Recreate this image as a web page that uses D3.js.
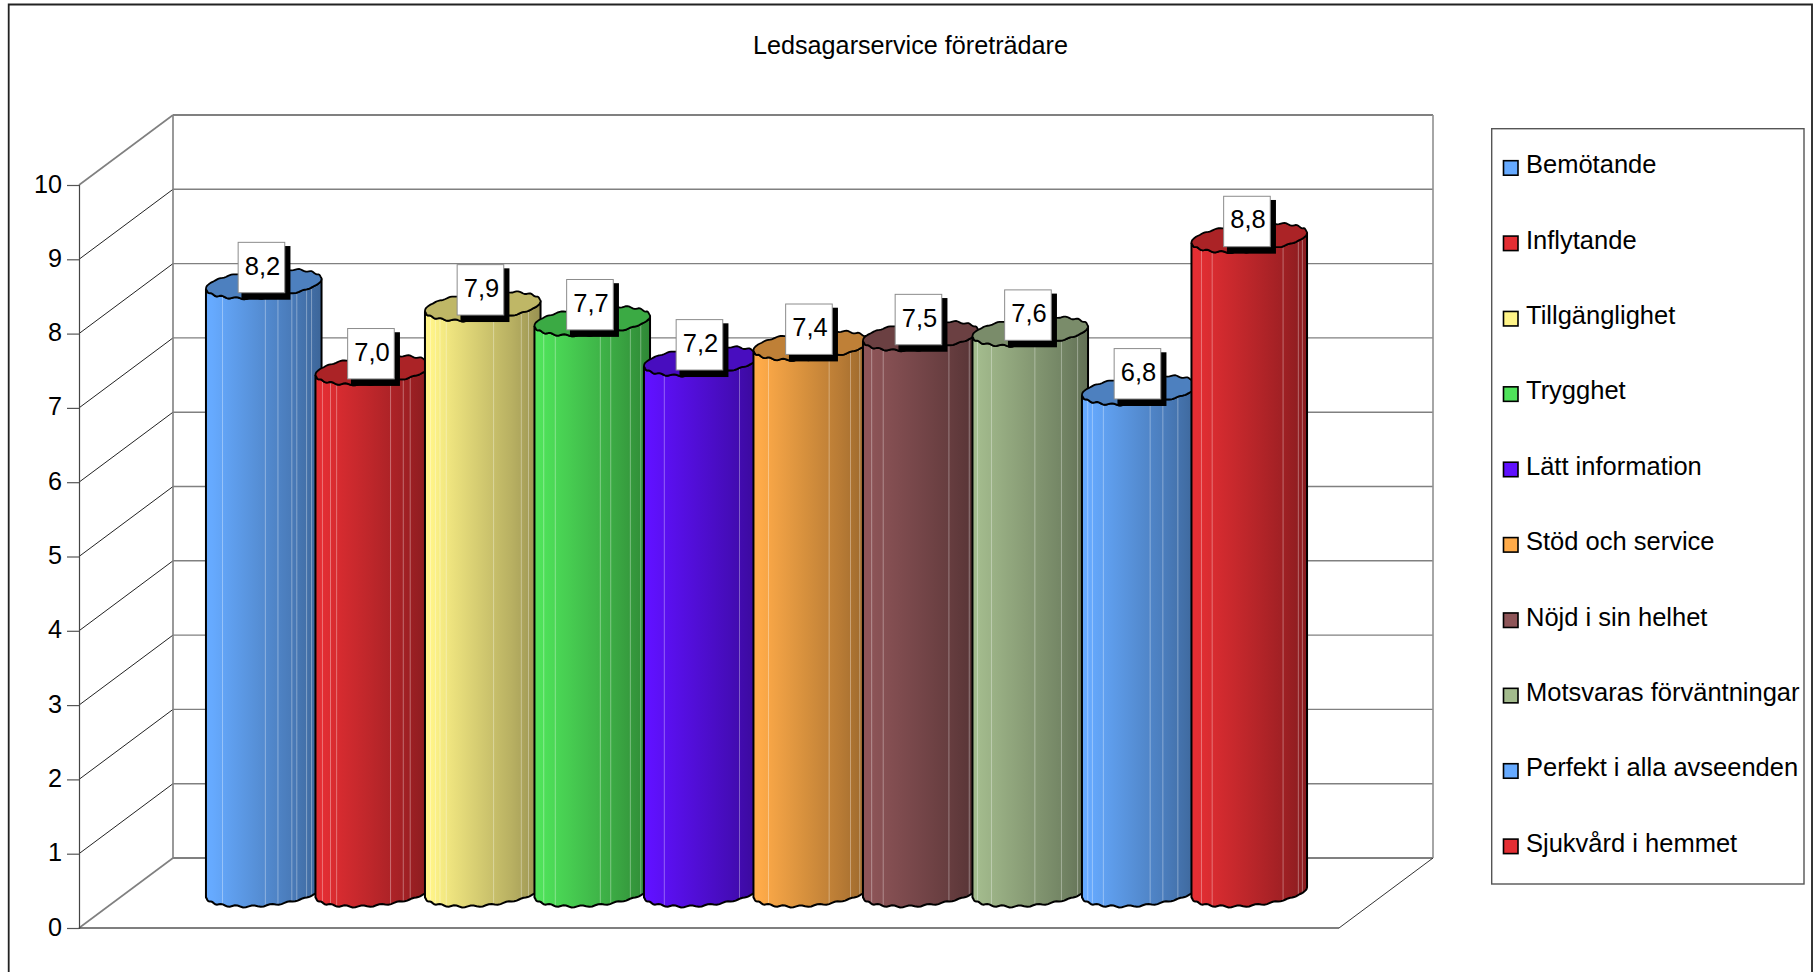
<!DOCTYPE html>
<html><head><meta charset="utf-8"><style>html,body{margin:0;padding:0;background:#fff;overflow:hidden}svg{display:block}text{font-family:"Liberation Sans",Arial,sans-serif;fill:#000}</style>
<script src="https://cdn.jsdelivr.net/npm/d3@7"></script></head><body><svg id="c" width="1820" height="972"></svg><script>
const titleText="Ledsagarservice företrädare";
const categories=["Bemötande","Inflytande","Tillgänglighet","Trygghet","Lätt information","Stöd och service","Nöjd i sin helhet","Motsvaras förväntningar","Perfekt i alla avseenden","Sjukvård i hemmet"];
const values=[8.2,7.04,7.9,7.7,7.16,7.37,7.5,7.56,6.77,8.82];
const colors=["#66aaff","#e42e33","#fff488","#4fe35a","#6011ff","#ffab49","#8e5558","#a3bb8d","#66aaff","#e42e33"];
const yTicks=[0,1,2,3,4,5,6,7,8,9,10];
const stripes=[[.143,.514,.623,.743,.786,.871,.914],[.06,.13,.183,.65,.76,.82],[.047,.09,.13,.184,.594,.834,.896],[.08,.18,.57,.66,.83,.92],[.176,.827],[.13,.655,.84,.92],[.075,.175,.744,.92],[.043,.164,.54,.77,.91],[.05,.09,.185,.59,.70,.83],[.086,.179,.793,.925,.96]];

const svg=d3.select("#c");
const y=d3.scaleLinear().domain([0,10]).range([928,185]);
const x=d3.scaleBand().domain(categories).range([206,1301]);
const front={l:79,r:1339},depth={dx:94,dy:-70};
const L=svg.append("g"),defs=svg.append("defs");
const line=(x1,y1,x2,y2,s,w)=>L.append("line").attr("x1",x1).attr("y1",y1).attr("x2",x2).attr("y2",y2).attr("stroke",s).attr("stroke-width",w);

// outer frame (open at the bottom)
L.append("path").attr("d",`M8.7,972V4.5H1812V972`).attr("fill","none").attr("stroke","#222").attr("stroke-width",1.8);
L.append("text").attr("x",910.5).attr("y",54).attr("text-anchor","middle").attr("font-size",25.2).text(titleText);

// walls
yTicks.forEach(t=>{
  const e=t===0||t===10;
  line(front.l,y(t),front.l+depth.dx,y(t)+depth.dy,e?"#808080":"#222",e?1.6:1);
  line(front.l+depth.dx,y(t)+depth.dy,front.r+depth.dx,y(t)+depth.dy,"#808080",e?2:1.4);
});
line(front.l+depth.dx,y(10)+depth.dy,front.l+depth.dx,y(0)+depth.dy,"#808080",1.6);
line(front.r+depth.dx,y(10)+depth.dy,front.r+depth.dx,y(0)+depth.dy,"#909090",1.6);
line(front.r,y(0),front.r+depth.dx,y(0)+depth.dy,"#333",1);
line(front.l,y(0),front.r,y(0),"#555",1.4);

const ax=L.append("g").attr("transform",`translate(${front.l},0)`).call(d3.axisLeft(y).tickValues(yTicks).tickSize(12).tickPadding(5).tickFormat(d3.format("d")));
ax.selectAll("line").attr("stroke","#555").attr("stroke-width",1.2);
ax.select(".domain").attr("stroke","#444").attr("stroke-width",1.2);
ax.selectAll("text").attr("font-size",25.2).attr("font-family",'"Liberation Sans",Arial,sans-serif').attr("fill","#000").attr("dy","0.28em");

// cylinders
const bw=115.5,a=54.4,p=19.5,q=14.5,N=20,amp=1.0;
const pt=(cx,cy,t)=>{
  const wave=Math.cos(t*N);
  return [cx+a*Math.cos(t)+p*Math.sin(t),cy-(q+amp*wave)*Math.sin(t)];
};
const tL=Math.PI+Math.atan2(p,a);
const ring=(cx,cy)=>d3.range(160).map(k=>pt(cx,cy,k/160*2*Math.PI));
const frontArc=(cx,cy)=>d3.range(61).map(i=>pt(cx,cy,tL+i/60*Math.PI));
const shade=(c,f)=>{const h=d3.rgb(c);return d3.rgb(h.r*f,h.g*f,h.b*f).formatHex()};
const lin=d3.line().curve(d3.curveLinear);
categories.forEach((c,i)=>{
  const left=x(c),cx=left+bw/2,cyT=y(values[i])-35,cyB=y(0)-36,col=colors[i];
  const g=defs.append("linearGradient").attr("id","g"+i);
  [[0,1],[.05,1],[.45,.84],[.75,.72],[1,.6]].forEach(s=>g.append("stop").attr("offset",s[0]).attr("stop-color",shade(col,s[1])));
  const top=frontArc(cx,cyT),bot=frontArc(cx,cyB);
  const body=lin(top.slice().reverse().concat(bot))+"Z";
  defs.append("clipPath").attr("id","k"+i).append("path").attr("d",body);
  const G=svg.append("g");
  G.append("path").attr("d",body).attr("fill",`url(#g${i})`);
  G.append("g").attr("clip-path",`url(#k${i})`).selectAll("line").data(stripes[i]).join("line")
    .attr("x1",s=>left+s*bw).attr("x2",s=>left+s*bw).attr("y1",cyT-20).attr("y2",cyB+20)
    .attr("stroke","#fff").attr("stroke-opacity",.35).attr("stroke-width",1);
  G.append("path").attr("d",body).attr("fill","none").attr("stroke","#000").attr("stroke-width",2);
  G.append("path").attr("d",lin(ring(cx,cyT))+"Z").attr("fill",shade(col,.75)).attr("stroke","#000").attr("stroke-width",1.8);
});

// data labels
const fmt=v=>d3.format(".1f")(v).replace(".",",");
const bw2=46.6,bh=50.4;
categories.forEach((c,i)=>{
  const cx=x(c)+bw/2-2.3,cy=y(values[i])-35-16.2;
  const G=svg.append("g");
  G.append("rect").attr("x",cx-bw2/2+3.3).attr("y",cy-bh/2+3.7).attr("width",bw2+2.4).attr("height",bh+3.3).attr("fill","#000");
  G.append("rect").attr("x",cx-bw2/2).attr("y",cy-bh/2).attr("width",bw2).attr("height",bh).attr("fill","#fff").attr("stroke","#8c8c8c").attr("stroke-width",1);
  G.append("text").attr("x",cx+1).attr("y",cy+7).attr("text-anchor","middle").attr("font-size",25.5).text(fmt(values[i]));
});

// legend
svg.append("rect").attr("x",1491.7).attr("y",128.7).attr("width",312.3).attr("height",755.3).attr("fill","#fff").attr("stroke","#555").attr("stroke-width",1.4);
const ly=d3.scalePoint().domain(categories).range([173.3,851.7]);
categories.forEach((c,i)=>{
  svg.append("rect").attr("x",1503.5).attr("y",ly(c)-12.6).attr("width",14.5).attr("height",14.5).attr("fill",colors[i]).attr("stroke","#000").attr("stroke-width",1.6);
  svg.append("text").attr("x",1526).attr("y",ly(c)).attr("font-size",25.5).text(c);
});
</script></body></html>
